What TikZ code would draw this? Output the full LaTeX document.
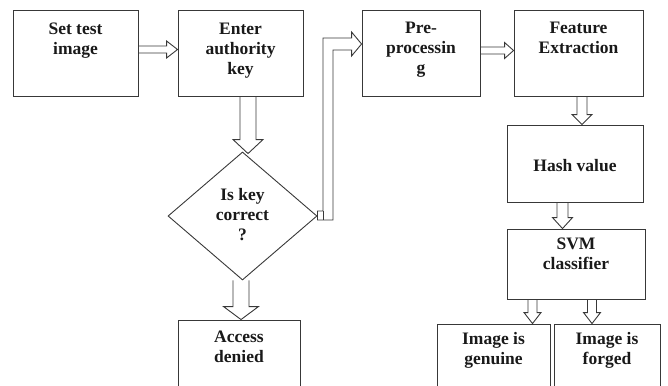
\documentclass[tikz,border=0pt]{standalone}
\usepackage{fontspec}
\setmainfont{Liberation Serif}
\usetikzlibrary{shapes.geometric,calc}
\tikzset{
 box/.style={draw=black!78, line width=0.9pt, inner sep=0pt},
 txt/.style={font=\bfseries\fontsize{17.5}{20}\selectfont, align=center, anchor=north, inner sep=0pt, text=black!90, execute at begin node=\strut},
 blk/.style={draw=black!78, line width=0.9pt, line join=miter}
}
% horizontal hollow arrow: from, to, y offset, half shaft, half head, head length
\newcommand\arrR[6]{%
 \draw[blk] ($(#1.east)+(0,{#3-#4})$) -- ($(#2.west|-#1.east)+({-#6},{#3-#4})$) -- ($(#2.west|-#1.east)+({-#6},{#3-#5})$) -- ($(#2.west|-#1.east)+(0,#3)$) -- ($(#2.west|-#1.east)+({-#6},{#3+#5})$) -- ($(#2.west|-#1.east)+({-#6},{#3+#4})$) -- ($(#1.east)+(0,{#3+#4})$);}
% vertical hollow arrow: from, target anchor, x offset, half shaft, half head, head length, tip extra
\newcommand\arrD[7]{%
 \draw[blk] ($(#1.south)+({#3-#4},0)$) -- ($(#1.south|-#2)+({#3-#4},{#7-#6})$) -- ($(#1.south|-#2)+({#3-#5},{#7-#6})$) -- ($(#1.south|-#2)+(#3,#7)$) -- ($(#1.south|-#2)+({#3+#5},{#7-#6})$) -- ($(#1.south|-#2)+({#3+#4},{#7-#6})$) -- ($(#1.south)+({#3+#4},0)$);}
\begin{document}
\begin{tikzpicture}[x=1pt,y=-1pt]
\useasboundingbox (0,0) rectangle (668,385);
% boxes
\node[box, minimum width=125pt, minimum height=86pt] (set) at (75.5,53) {};
\node[box, minimum width=125pt, minimum height=86pt] (enter) at (240.5,53) {};
\node[box, minimum width=118pt, minimum height=86pt] (pre) at (421,53) {};
\node[box, minimum width=129pt, minimum height=86pt] (feat) at (578.5,53) {};
\node[box, minimum width=136pt, minimum height=77pt] (hash) at (575,163.5) {};
\node[box, minimum width=138pt, minimum height=70pt] (svm) at (576,264) {};
\node[box, minimum width=113pt, minimum height=70pt] (gen) at (493.5,359) {};
\node[box, minimum width=106pt, minimum height=70pt] (forg) at (607,359) {};
\node[box, minimum width=122pt, minimum height=70pt] (acc) at (239,355) {};
\node[box, diamond, minimum width=149pt, minimum height=128pt] (dia) at (242.5,216) {};
% texts
\node[txt] (tset) at ($(set.north)+(0,13)$) {Set test\\image};
\node[txt] (tenter) at ($(enter.north)+(0,13)$) {Enter\\authority\\key};
\node[txt] (tpre) at ($(pre.north)+(0,12)$) {Pre-\\processin\\g};
\node[txt] (tfeat) at ($(feat.north)+(0,12)$) {Feature\\Extraction};
\node[txt] (thash) at ($(hash.north)+(0,33)$) {Hash value};
\node[txt] (tsvm) at ($(svm.north)+(0,9)$) {SVM\\classifier};
\node[txt] (tgen) at ($(gen.north)+(0,9)$) {Image is\\genuine};
\node[txt] (tforg) at ($(forg.north)+(0,9)$) {Image is\\forged};
\node[txt] (tacc) at ($(acc.north)+(0,11)$) {Access\\denied};
\node[txt] (tdia) at ($(dia.north)+(0,37)$) {Is key\\correct\\?};
% arrows
\arrR{set}{enter}{-3.5}{3.5}{8.5}{11}
\arrR{pre}{feat}{-2.5}{3.5}{8}{9}
\arrD{enter}{dia.north}{7.5}{8}{15}{14}{2}
\arrD{dia}{acc.north}{-1.5}{8}{17.5}{13}{0}
\arrD{feat}{hash.north}{3.5}{5}{10}{10}{0}
\arrD{hash}{svm.north}{-12.5}{5.5}{10}{11}{0}
\arrD{svm}{gen.north}{-43.5}{4.5}{8.5}{11}{0}
\arrD{svm}{forg.north}{16}{4.5}{8.5}{11}{0}
% yes branch: diamond to pre-processing
\coordinate (q1) at ($(dia.east)+(5.5,-5)$);
\coordinate (q2) at ($(dia.east)+(15.5,4)$);
\coordinate (p1) at ($(pre.west)+(-10,-15)$);
\coordinate (p2) at ($(pre.west)+(-10,-3)$);
\draw[blk] ($(dia.east)+(0,-5)$) -- (q1) -- (q1|-p1) -- (p1) -- ($(pre.west)+(-10,-21)$) -- ($(pre.west)+(0,-9)$) -- ($(pre.west)+(-10,3)$) -- (p2) -- (q2|-p2) -- (q2) -- ($(dia.east)+(0,4)$) -- cycle;
\draw[blk] (q1) -- (q1|-q2);
\end{tikzpicture}
\end{document}
